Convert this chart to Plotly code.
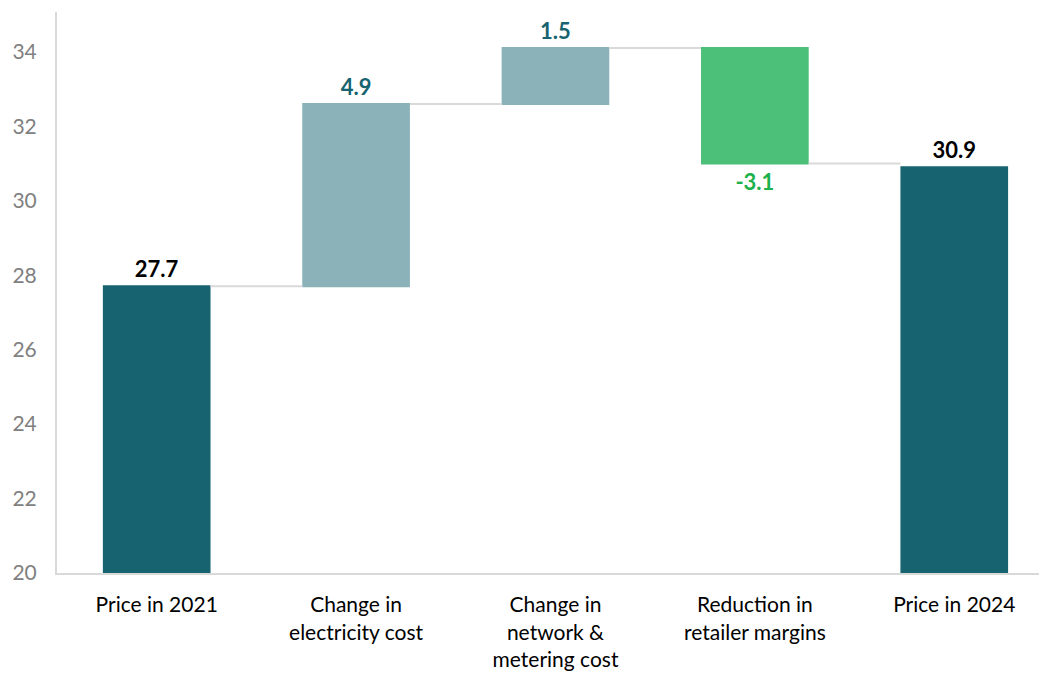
import plotly.graph_objects as go

# Price build-up, 2021 to 2024
categories = [
    "Price in 2021",
    "Change in<br>electricity cost",
    "Change in<br>network &<br>metering cost",
    "Reduction in<br>retailer margins",
    "Price in 2024",
]
values = [27.7, 4.9, 1.5, -3.1, 30.9]
measures = ["absolute", "relative", "relative", "relative", "absolute"]
labels = ["27.7", "4.9", "1.5", "-3.1", "30.9"]
label_colors = ["#000000", "#17636F", "#17636F", "#1DB14B", "#000000"]

DARK = "#17636F"
LIGHT = "#8AB2B8"
GREEN = "#4CBF78"
AXIS = "#D9D9D9"
FONT = "Lato, Open Sans, sans-serif"

fig = go.Figure(
    go.Waterfall(
        x=categories,
        y=values,
        measure=measures,
        text=labels,
        textposition="outside",
        textfont=dict(family=FONT, size=22, color=label_colors, weight="bold"),
        cliponaxis=False,
        increasing=dict(marker=dict(color=LIGHT)),
        decreasing=dict(marker=dict(color=GREEN)),
        totals=dict(marker=dict(color=DARK)),
        connector=dict(mode="between", line=dict(color=AXIS, width=2)),
        hoverinfo="skip",
    )
)

fig.update_layout(
    width=1039,
    height=675,
    margin=dict(l=57, r=0, t=12, b=102),
    paper_bgcolor="white",
    plot_bgcolor="white",
    showlegend=False,
    waterfallgap=0.46,
    font=dict(family=FONT),
)

fig.update_xaxes(
    range=[-0.5, 4.425],
    showline=True,
    linecolor=AXIS,
    linewidth=2,
    showgrid=False,
    ticks="",
    ticklabelstandoff=12,
    tickfont=dict(family=FONT, size=21, color="#000000"),
)

fig.update_yaxes(
    range=[20, 35.07],
    tickvals=[20, 22, 24, 26, 28, 30, 32, 34],
    showline=True,
    linecolor=AXIS,
    linewidth=2,
    showgrid=False,
    zeroline=False,
    ticks="",
    ticklabelstandoff=14,
    tickfont=dict(family=FONT, size=21, color="#808080"),
)

fig.write_html("out.html")
